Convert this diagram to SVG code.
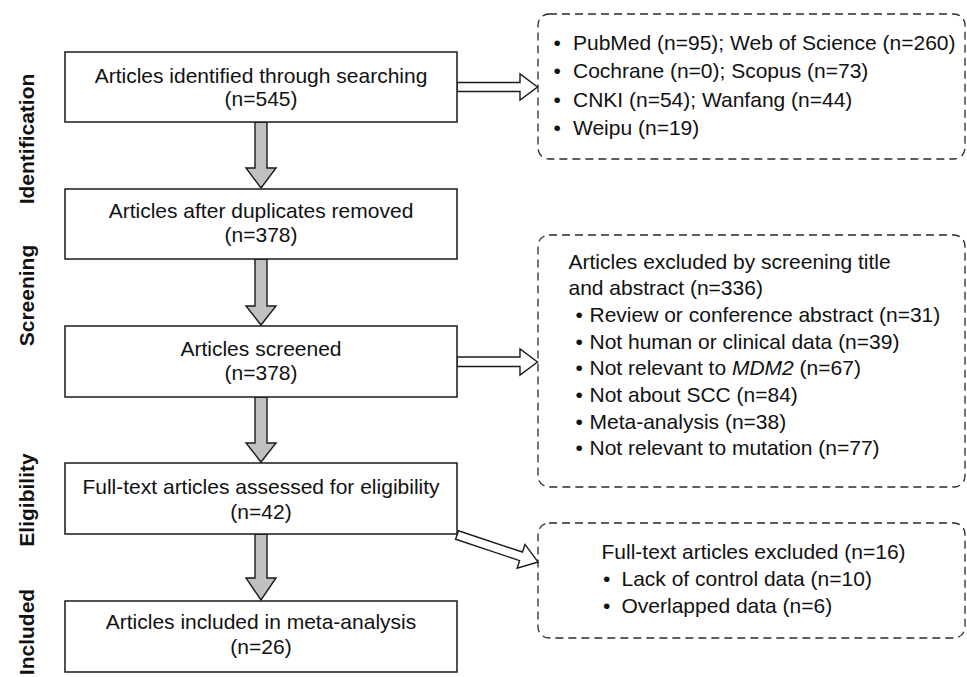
<svg xmlns="http://www.w3.org/2000/svg" width="967" height="677" viewBox="0 0 967 677">
<style>
  .box { fill: #ffffff; stroke: #1a1a1a; stroke-width: 1.5; }
  .dbox { fill: none; stroke: #2a2a2a; stroke-width: 1.3; stroke-dasharray: 8 5; }
  .t { font-family: "Liberation Sans", Arial, sans-serif; font-size: 21px; fill: #111111; }
  .c { text-anchor: middle; }
  .lab { font-family: "Liberation Sans", Arial, sans-serif; font-size: 21px; font-weight: bold; fill: #111111; text-anchor: middle; }
  .ga { fill: #c0c0c0; stroke: #1a1a1a; stroke-width: 1.4; stroke-linejoin: miter; }
  .wa { fill: #ffffff; stroke: #1a1a1a; stroke-width: 1.4; stroke-linejoin: miter; }
</style>
<rect width="967" height="677" fill="#ffffff"/>

<g id="stage-labels">
  <text class="lab" transform="translate(33.5,139) rotate(-90)">Identification</text>
  <text class="lab" transform="translate(33.5,295.5) rotate(-90)">Screening</text>
  <text class="lab" transform="translate(33.5,500) rotate(-90)">Eligibility</text>
  <text class="lab" transform="translate(33.5,632) rotate(-90)">Included</text>
</g>

<g id="connectors">
  <polygon class="ga" points="255,122 267,122 267,168 276,168 261,188 246,168 255,168"/>
  <polygon class="ga" points="255,259 267,259 267,306 276,306 261,325 246,306 255,306"/>
  <polygon class="ga" points="255,397 267,397 267,443 276,443 261,462 246,443 255,443"/>
  <polygon class="ga" points="255,534 267,534 267,578 276,578 261,600 246,578 255,578"/>
  <polygon class="wa" points="457,82.5 520,82.5 520,74 537.5,87 520,100 520,91.5 457,91.5"/>
  <polygon class="wa" points="457,357 520,357 520,349 537.5,362 520,375 520,366.5 457,366.5"/>
  <polygon class="wa" transform="translate(457,535) rotate(18.4)" points="0,-4.5 67.5,-4.5 67.5,-12.5 85.5,0 67.5,12.5 67.5,4.5 0,4.5"/>
</g>

<g id="n1">
  <rect class="box" x="65" y="52" width="392" height="70"/>
  <text class="t c" x="261" y="82.5">Articles identified through searching</text>
  <text class="t c" x="261" y="106">(n=545)</text>
</g>
<g id="n2">
  <rect class="box" x="65" y="189" width="392" height="70"/>
  <text class="t c" x="261" y="218">Articles after duplicates removed</text>
  <text class="t c" x="261" y="242">(n=378)</text>
</g>
<g id="n3">
  <rect class="box" x="65" y="326" width="392" height="71"/>
  <text class="t c" x="261" y="355.5">Articles screened</text>
  <text class="t c" x="261" y="379.5">(n=378)</text>
</g>
<g id="n4">
  <rect class="box" x="65" y="463" width="392" height="71"/>
  <text class="t c" x="261" y="494">Full-text articles assessed for eligibility</text>
  <text class="t c" x="261" y="518.5">(n=42)</text>
</g>
<g id="n5">
  <rect class="box" x="65" y="601" width="392" height="71"/>
  <text class="t c" x="261" y="629">Articles included in meta-analysis</text>
  <text class="t c" x="261" y="653.5">(n=26)</text>
</g>

<g id="d1">
  <rect class="dbox" x="538" y="14" width="427" height="145" rx="11" ry="11"/>
  <text class="t" y="50"><tspan x="553.5">•</tspan><tspan x="573">PubMed (n=95); Web of Science (n=260)</tspan></text>
  <text class="t" y="78.3"><tspan x="553.5">•</tspan><tspan x="573">Cochrane (n=0); Scopus (n=73)</tspan></text>
  <text class="t" y="106.6"><tspan x="553.5">•</tspan><tspan x="573">CNKI (n=54); Wanfang (n=44)</tspan></text>
  <text class="t" y="135"><tspan x="553.5">•</tspan><tspan x="573">Weipu (n=19)</tspan></text>
</g>

<g id="d2">
  <rect class="dbox" x="538" y="235" width="427" height="252" rx="11" ry="11"/>
  <text class="t" x="568.5" y="269">Articles excluded by screening title</text>
  <text class="t" x="568.5" y="295">and abstract (n=336)</text>
  <text class="t" y="322"><tspan x="575.5">•</tspan><tspan x="589.5">Review or conference abstract (n=31)</tspan></text>
  <text class="t" y="348.7"><tspan x="575.5">•</tspan><tspan x="589.5">Not human or clinical data (n=39)</tspan></text>
  <text class="t" y="375.3"><tspan x="575.5">•</tspan><tspan x="589.5">Not relevant to </tspan><tspan font-style="italic">MDM2</tspan><tspan> (n=67)</tspan></text>
  <text class="t" y="402"><tspan x="575.5">•</tspan><tspan x="589.5">Not about SCC (n=84)</tspan></text>
  <text class="t" y="428.6"><tspan x="575.5">•</tspan><tspan x="589.5">Meta-analysis (n=38)</tspan></text>
  <text class="t" y="455.2"><tspan x="575.5">•</tspan><tspan x="589.5">Not relevant to mutation (n=77)</tspan></text>
</g>

<g id="d3">
  <rect class="dbox" x="538" y="523" width="427" height="115" rx="11" ry="11"/>
  <text class="t" x="601.5" y="558.5">Full-text articles excluded (n=16)</text>
  <text class="t" y="586"><tspan x="603">•</tspan><tspan x="621.5">Lack of control data (n=10)</tspan></text>
  <text class="t" y="613.3"><tspan x="603">•</tspan><tspan x="621.5">Overlapped data (n=6)</tspan></text>
</g>
</svg>
